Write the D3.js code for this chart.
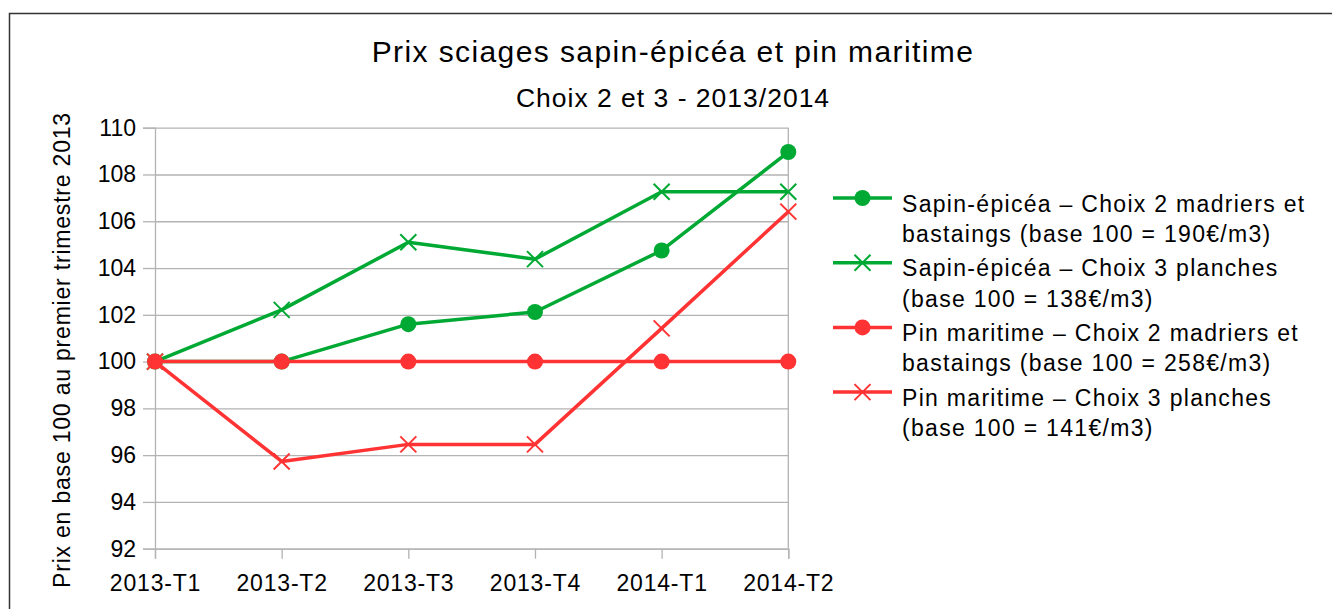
<!DOCTYPE html>
<html>
<head>
<meta charset="utf-8">
<script src="https://cdn.jsdelivr.net/npm/d3@7"></script>
<style>
  body { margin: 0; background: #fff; }
  text { font-family: "Liberation Sans", Arial, sans-serif; fill: #000; }
</style>
</head>
<body>
<div id="chart"></div>
<script>
// donnees
var trimestres = ["2013-T1", "2013-T2", "2013-T3", "2013-T4", "2014-T1", "2014-T2"];
var sapinChoix2 = [100, 100, 101.6, 102.12, 104.75, 108.96];
var sapinChoix3 = [100, 102.21, 105.1, 104.38, 107.26, 107.26];
var pinChoix2 = [100, 100, 100, 100, 100, 100];
var pinChoix3 = [100, 95.73, 96.46, 96.46, 101.42, 106.41];
var yTicks = [92, 94, 96, 98, 100, 102, 104, 106, 108, 110];
var legendeTextes = [
  ["Sapin-épicéa – Choix 2 madriers et", "bastaings (base 100 = 190€/m3)"],
  ["Sapin-épicéa – Choix 3 planches", "(base 100 = 138€/m3)"],
  ["Pin maritime – Choix 2 madriers et", "bastaings (base 100 = 258€/m3)"],
  ["Pin maritime – Choix 3 planches", "(base 100 = 141€/m3)"]
];

var vert = "#00a933", rouge = "#ff3333";
var series = [
  {valeurs: sapinChoix2, couleur: vert, marqueur: "rond"},
  {valeurs: sapinChoix3, couleur: vert, marqueur: "croix"},
  {valeurs: pinChoix2, couleur: rouge, marqueur: "rond"},
  {valeurs: pinChoix3, couleur: rouge, marqueur: "croix"}
];

var W = 1332, H = 609;
var marge = {top: 127.7, left: 155, right: W - 788.3, bottom: H - 548.7};
var police = "Liberation Sans, Arial, sans-serif";

var svg = d3.select("#chart").append("svg")
    .attr("width", W)
    .attr("height", H);

// cadre
svg.append("rect")
    .attr("x", 9.5).attr("y", 13.5)
    .attr("width", W + 20).attr("height", H + 20)
    .style("fill", "none").style("stroke", "#333").style("stroke-width", 1.5);

var x = d3.scalePoint()
    .domain(trimestres)
    .range([marge.left, W - marge.right]);

var y = d3.scaleLinear()
    .domain([92, 110])
    .range([H - marge.bottom, marge.top]);

// grille horizontale
svg.append("g")
    .attr("class", "grille")
    .attr("transform", "translate(" + marge.left + ",0)")
    .call(d3.axisLeft(y).tickValues(yTicks).tickSize(-(W - marge.right - marge.left)).tickFormat(""))
    .call(function(g) { g.select(".domain").remove(); })
    .selectAll("line").style("stroke", "#b3b3b3").style("stroke-width", 1.3);

// axe y
var axeY = svg.append("g")
    .attr("transform", "translate(" + marge.left + ",0)")
    .call(d3.axisLeft(y).tickValues(yTicks).tickSize(12).tickPadding(7));
axeY.select(".domain").style("stroke", "#b3b3b3").style("stroke-width", 1.3);
axeY.selectAll("line").style("stroke", "#b3b3b3").style("stroke-width", 1.3);
axeY.selectAll("text").style("font-size", "23px").style("font-family", police);

// axe x
var axeX = svg.append("g")
    .attr("transform", "translate(0," + (H - marge.bottom) + ")")
    .call(d3.axisBottom(x).tickSize(10).tickPadding(16));
axeX.select(".domain").style("stroke", "#b3b3b3").style("stroke-width", 1.3);
axeX.selectAll("line").style("stroke", "#b3b3b3").style("stroke-width", 1.3);
axeX.selectAll("text").style("font-size", "23px").style("font-family", police)
    .style("letter-spacing", "0.8px");

// bord droit du graphique
svg.append("line")
    .attr("x1", W - marge.right).attr("x2", W - marge.right)
    .attr("y1", marge.top).attr("y2", H - marge.bottom)
    .style("stroke", "#b3b3b3").style("stroke-width", 1.3);

var ligne = d3.line()
    .x(function(d, i) { return x(trimestres[i]); })
    .y(function(d) { return y(d); });

function dessineMarqueur(g, type, cx, cy, couleur) {
  if (type === "rond") {
    g.append("circle").attr("cx", cx).attr("cy", cy).attr("r", 8).style("fill", couleur);
  } else {
    var s = 8;
    g.append("path")
      .attr("d", "M" + (cx - s) + "," + (cy - s) + "L" + (cx + s) + "," + (cy + s) +
                 "M" + (cx - s) + "," + (cy + s) + "L" + (cx + s) + "," + (cy - s))
      .style("stroke", couleur).style("stroke-width", 2).style("fill", "none");
  }
}

// ordre de dessin : rouges au-dessus
series.forEach(function(s) {
  var g = svg.append("g");
  g.append("path")
    .datum(s.valeurs)
    .attr("d", ligne)
    .style("fill", "none")
    .style("stroke", s.couleur)
    .style("stroke-width", 3.5)
    .style("stroke-linejoin", "round");
  s.valeurs.forEach(function(v, i) {
    dessineMarqueur(g, s.marqueur, x(trimestres[i]), y(v), s.couleur);
  });
});

// titres
svg.append("text")
    .attr("x", 673).attr("y", 62)
    .attr("text-anchor", "middle")
    .style("font-size", "30px")
    .style("letter-spacing", "1.4px")
    .text("Prix sciages sapin-épicéa et pin maritime");

svg.append("text")
    .attr("x", 673).attr("y", 107)
    .attr("text-anchor", "middle")
    .style("font-size", "26.5px")
    .style("letter-spacing", "1px")
    .text("Choix 2 et 3 - 2013/2014");

// titre axe y
svg.append("text")
    .attr("transform", "translate(70,350) rotate(-90)")
    .attr("text-anchor", "middle")
    .style("font-size", "23px")
    .style("letter-spacing", "0.8px")
    .text("Prix en base 100 au premier trimestre 2013");

// legende
var leg = svg.append("g");
series.forEach(function(s, i) {
  var cy = 198 + i * 64.7;
  leg.append("line")
    .attr("x1", 833).attr("x2", 892)
    .attr("y1", cy).attr("y2", cy)
    .style("stroke", s.couleur).style("stroke-width", 3.5);
  dessineMarqueur(leg, s.marqueur, 862.5, cy, s.couleur);
  legendeTextes[i].forEach(function(t, j) {
    leg.append("text")
      .attr("x", 902)
      .attr("y", cy + 13.5 + j * 30.5)
      .style("font-size", "23px")
      .style("letter-spacing", "1.3px")
      .text(t);
  });
});
</script>
</body>
</html>
